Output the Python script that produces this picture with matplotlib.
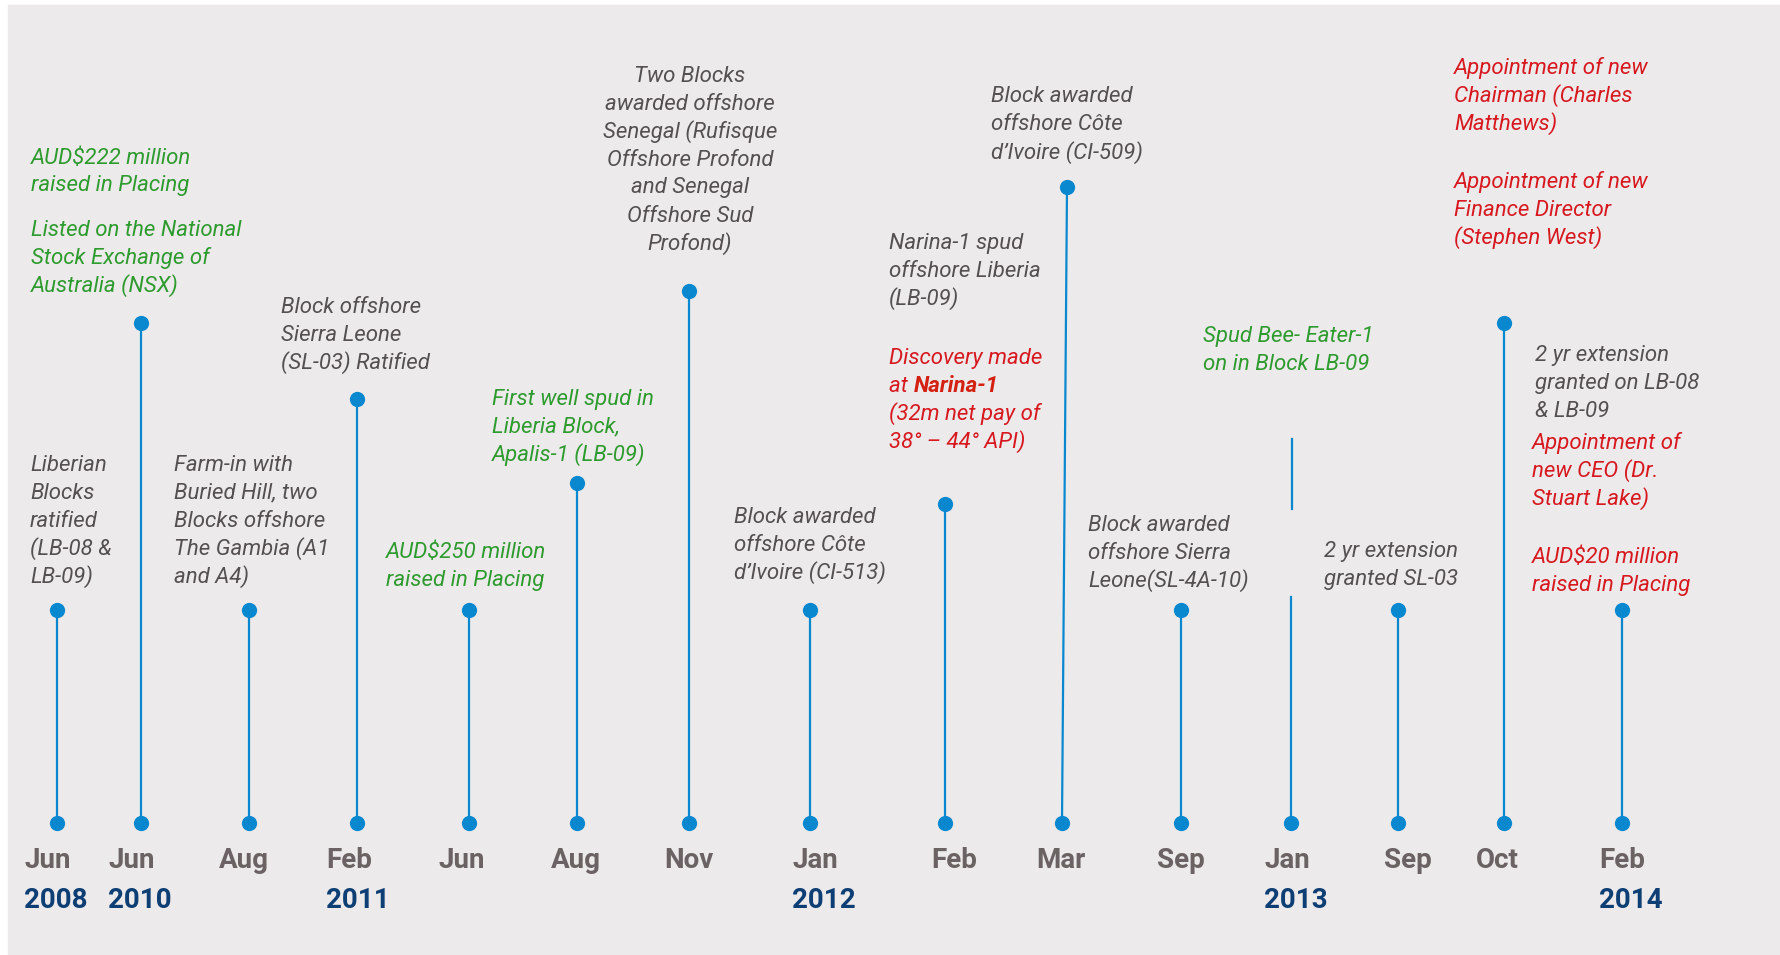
import matplotlib
matplotlib.use("Agg")
import matplotlib.pyplot as plt
from matplotlib.patches import Rectangle

# timeline slots (left to right)
months = ["Jun", "Jun", "Aug", "Feb", "Jun", "Aug", "Nov", "Jan",
          "Feb", "Mar", "Sep", "Jan", "Sep", "Oct", "Feb"]
years = ["2008", "2010", "", "2011", "", "", "", "2012",
         "", "", "", "2013", "", "", "2014"]
slot_x = [57, 141, 249, 357, 469, 577, 689, 810, 945, 1062, 1181, 1291, 1398, 1504, 1622]
stem_top = [610, 323, 610, 399, 610, 483, 291, 610, 504, 187, 610, 439, 610, 323, 610]
lean = [0, 0, 0, 0, 0, 0, 0, 0, 0, 5, 0, 1, 0, 0, 0]
has_top_dot = [True] * 11 + [False] + [True] * 3
baseline = 823

# annotations: (lines, colour key, x, first line y, align)
notes = [
    (["AUD$222 million", "raised in Placing"], "green", 31, 158, "left"),
    (["Listed on the National", "Stock Exchange of", "Australia (NSX)"], "green", 31, 230, "left"),
    (["Liberian", "Blocks", "ratified", "(LB-08 &", "LB-09)"], "grey", 30, 465, "left"),
    (["Farm-in with", "Buried Hill, two", "Blocks offshore", "The Gambia (A1", "and A4)"], "grey", 174, 465, "left"),
    (["Block offshore", "Sierra Leone", "(SL-03) Ratified"], "grey", 281, 307, "left"),
    (["AUD$250 million", "raised in Placing"], "green", 386, 552, "left"),
    (["First well spud in", "Liberia Block,", "Apalis-1 (LB-09)"], "green", 492, 399, "left"),
    (["Two Blocks", "awarded offshore", "Senegal (Rufisque", "Offshore Profond",
      "and Senegal", "Offshore Sud", "Profond)"], "grey", 690, 76, "center"),
    (["Block awarded", "offshore Côte", "d’Ivoire (CI-513)"], "grey", 734, 517, "left"),
    (["Narina-1 spud", "offshore Liberia", "(LB-09)"], "grey", 889, 243, "left"),
    (["Discovery made", "at ", "(32m net pay of", "38° – 44° API)"], "red", 889, 358, "left"),
    (["Block awarded", "offshore Côte", "d’Ivoire (CI-509)"], "grey", 991, 97, "left"),
    (["Block awarded", "offshore Sierra", "Leone(SL-4A-10)"], "grey", 1088, 525, "left"),
    (["Spud Bee- Eater-1", "on in Block LB-09"], "green", 1203, 336, "left"),
    (["2 yr extension", "granted SL-03"], "grey", 1324, 551, "left"),
    (["Appointment of new", "Chairman (Charles", "Matthews)"], "red", 1454, 68, "left"),
    (["Appointment of new", "Finance Director", "(Stephen West)"], "red", 1454, 182, "left"),
    (["2 yr extension", "granted on LB-08", "& LB-09"], "grey", 1535, 355, "left"),
    (["Appointment of", "new CEO (Dr.", "Stuart Lake)"], "red", 1532, 443, "left"),
    (["AUD$20 million", "raised in Placing"], "red", 1532, 557, "left"),
]

# small hand nudges of the date labels, as in the original artwork
label_dx = [-1, -1, -5, 1, -7, -1, 0, 14, 9, -1, 0, 5, 10, -7, 9]

colours = {"green": "#2E9B2E", "grey": "#545052", "red": "#D7191F"}
blue = "#0A88CF"
bg = "#ECEAEB"

plt.rcParams["font.family"] = ["Roboto", "DejaVu Sans"]

fig = plt.figure(figsize=(17.81, 9.55), dpi=100)
ax = fig.add_axes([0, 0, 1, 1])
ax.set_xlim(0, 1781)
ax.set_ylim(955, 0)
ax.axis("off")
ax.add_patch(Rectangle((8, 5), 1773, 955, color=bg, zorder=0))

# stems + dots
for i, x in enumerate(slot_x):
    xt = x + lean[i]
    if has_top_dot[i]:
        ax.plot([x, xt], [baseline, stem_top[i]], color=blue, lw=1.6, zorder=2)
        ax.plot(xt, stem_top[i], "o", color=blue, ms=11, mec="none", zorder=3)
    else:
        # broken stem (Jan 2013)
        ax.plot([x, x], [baseline, 597], color=blue, lw=1.6, zorder=2)
        ax.plot([xt, xt], [509, stem_top[i]], color=blue, lw=1.6, zorder=2)
    ax.plot(x, baseline, "o", color=blue, ms=11, mec="none", zorder=3)

# month / year labels
fig.canvas.draw()
rend = fig.canvas.get_renderer()
for i, x in enumerate(slot_x):
    lx = x + label_dx[i]
    m = ax.text(lx, 860, months[i], ha="center", va="center", fontsize=20,
                fontweight="bold", color="#6B6264")
    if years[i]:
        y = ax.text(x, 900, years[i], ha="center", va="center", fontsize=20,
                    fontweight="bold", color="#0E3F74")
        bb = y.get_window_extent(rend).transformed(ax.transData.inverted())
        left = min(bb.x0, bb.x1) + label_dx[i]
        m.set_ha("left")
        m.set_x(left)
        y.set_ha("left")
        y.set_x(left)

# annotations
step = 28
for lines, ck, x, y0, al in notes:
    for j, line in enumerate(lines):
        t = ax.text(x, y0 + j * step, line, ha=al, va="center", fontsize=16,
                    style="italic", color=colours[ck])
        if line == "at ":
            ax.annotate("Narina-1", xy=(1, 0.5), xycoords=t, ha="left", va="center",
                        fontsize=16, style="italic", fontweight="bold", color="#D42010")

fig.savefig("out.png", dpi=100, facecolor="white")
